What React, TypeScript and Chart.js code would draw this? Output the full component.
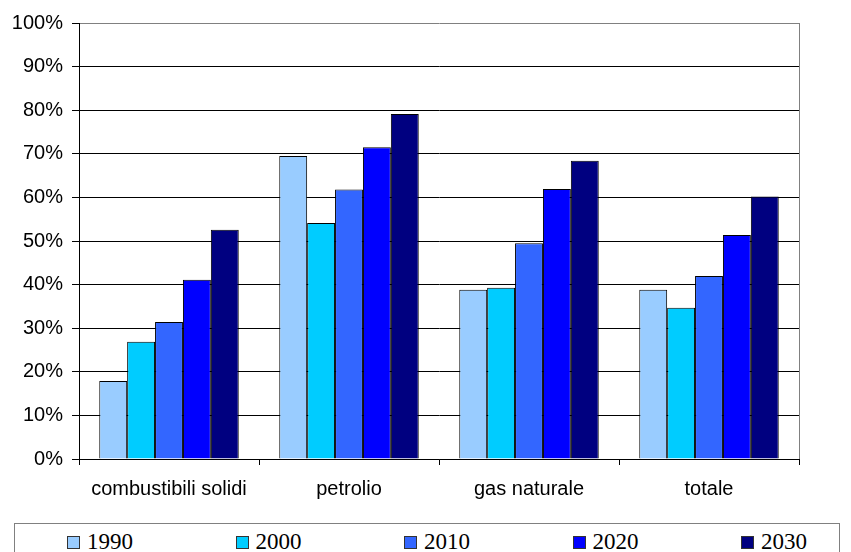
import React, { useEffect, useRef } from "react";
import { Chart, registerables } from "chart.js";

Chart.register(...registerables);

const categories = ["combustibili solidi", "petrolio", "gas naturale", "totale"];
const seriesLabels = ["1990", "2000", "2010", "2020", "2030"];
const seriesColors = ["#99CCFF", "#00CCFF", "#3366FF", "#0000FF", "#000080"];
const values1990 = [17.9, 69.5, 38.8, 38.8];
const values2000 = [26.9, 54.1, 39.3, 34.7];
const values2010 = [31.4, 61.8, 49.5, 42.0];
const values2020 = [41.1, 71.5, 61.9, 51.4];
const values2030 = [52.6, 79.1, 68.4, 60.2];
const seriesValues = [values1990, values2000, values2010, values2020, values2030];
const yTicks = [0, 10, 20, 30, 40, 50, 60, 70, 80, 90, 100];

const frameBorder = {
  id: "frameBorder",
  afterDraw(chart: any) {
    const { ctx, chartArea } = chart;
    ctx.save();
    ctx.strokeStyle = "#808080";
    ctx.lineWidth = 1;
    ctx.beginPath();
    ctx.moveTo(Math.round(chartArea.right) + 0.5, chartArea.top);
    ctx.lineTo(Math.round(chartArea.right) + 0.5, chartArea.bottom);
    ctx.stroke();
    ctx.restore();
  },
};

export default function App() {
  const ref = useRef<HTMLCanvasElement | null>(null);

  useEffect(() => {
    document.body.style.margin = "0";
    if (!ref.current) return;
    const chart = new Chart(ref.current, {
      type: "bar",
      data: {
        labels: categories,
        datasets: seriesLabels.map((lab, i) => ({
          label: lab,
          data: seriesValues[i],
          backgroundColor: seriesColors[i],
          borderColor: "#000",
          borderWidth: 1,
          barPercentage: 1,
          categoryPercentage: 0.775,
        })),
      },
      options: {
        animation: false,
        responsive: true,
        maintainAspectRatio: false,
        layout: { padding: { left: 0, right: 52, top: 23, bottom: 0 } },
        plugins: { legend: { display: false }, tooltip: { enabled: false } },
        scales: {
          x: {
            afterFit: (s: any) => {
              s.height = 56;
            },
            border: { color: "#000", width: 1 },
            grid: {
              display: true,
              drawOnChartArea: false,
              drawTicks: true,
              tickLength: 6,
              color: "#000",
              offset: true,
            },
            ticks: {
              color: "#000",
              padding: 12,
              font: { family: "Liberation Sans, Arial", size: 20 },
            },
          },
          y: {
            min: 0,
            max: 100,
            afterFit: (s: any) => {
              s.width = 79;
            },
            afterBuildTicks: (s: any) => {
              s.ticks = yTicks.map((v) => ({ value: v }));
            },
            border: { color: "#000", width: 1 },
            grid: {
              color: (c: any) => (c.tick && c.tick.value === 100 ? "#808080" : "#000"),
              tickColor: "#000",
              tickLength: 7,
            },
            ticks: {
              color: "#000",
              padding: 9,
              font: { family: "Liberation Sans, Arial", size: 20 },
              callback: (v: any) => v + "%",
            },
          },
        },
      },
      plugins: [frameBorder],
    });
    return () => chart.destroy();
  }, []);

  return (
    <div style={{ position: "relative", width: 851, height: 552, overflow: "hidden", background: "#fff" }}>
      <div style={{ position: "absolute", left: 0, top: 0, width: 851, height: 515 }}>
        <canvas ref={ref} />
      </div>
      <div
        style={{
          position: "absolute",
          left: 14,
          top: 523,
          width: 826,
          height: 45,
          border: "1px solid #808080",
          boxSizing: "border-box",
        }}
      >
        <div style={{ position: "absolute", left: 52, top: 7, display: "flex" }}>
          {seriesLabels.map((lab, i) => (
            <div key={lab} style={{ width: 168.5, height: 22, display: "flex", alignItems: "center" }}>
              <span
                style={{
                  display: "inline-block",
                  width: 11,
                  height: 11,
                  background: seriesColors[i],
                  border: "1px solid #333",
                }}
              />
              <span
                style={{
                  marginLeft: 7,
                  fontFamily: "Liberation Serif, Times New Roman, serif",
                  fontSize: 23,
                  lineHeight: "22px",
                  color: "#000",
                }}
              >
                {lab}
              </span>
            </div>
          ))}
        </div>
      </div>
    </div>
  );
}
